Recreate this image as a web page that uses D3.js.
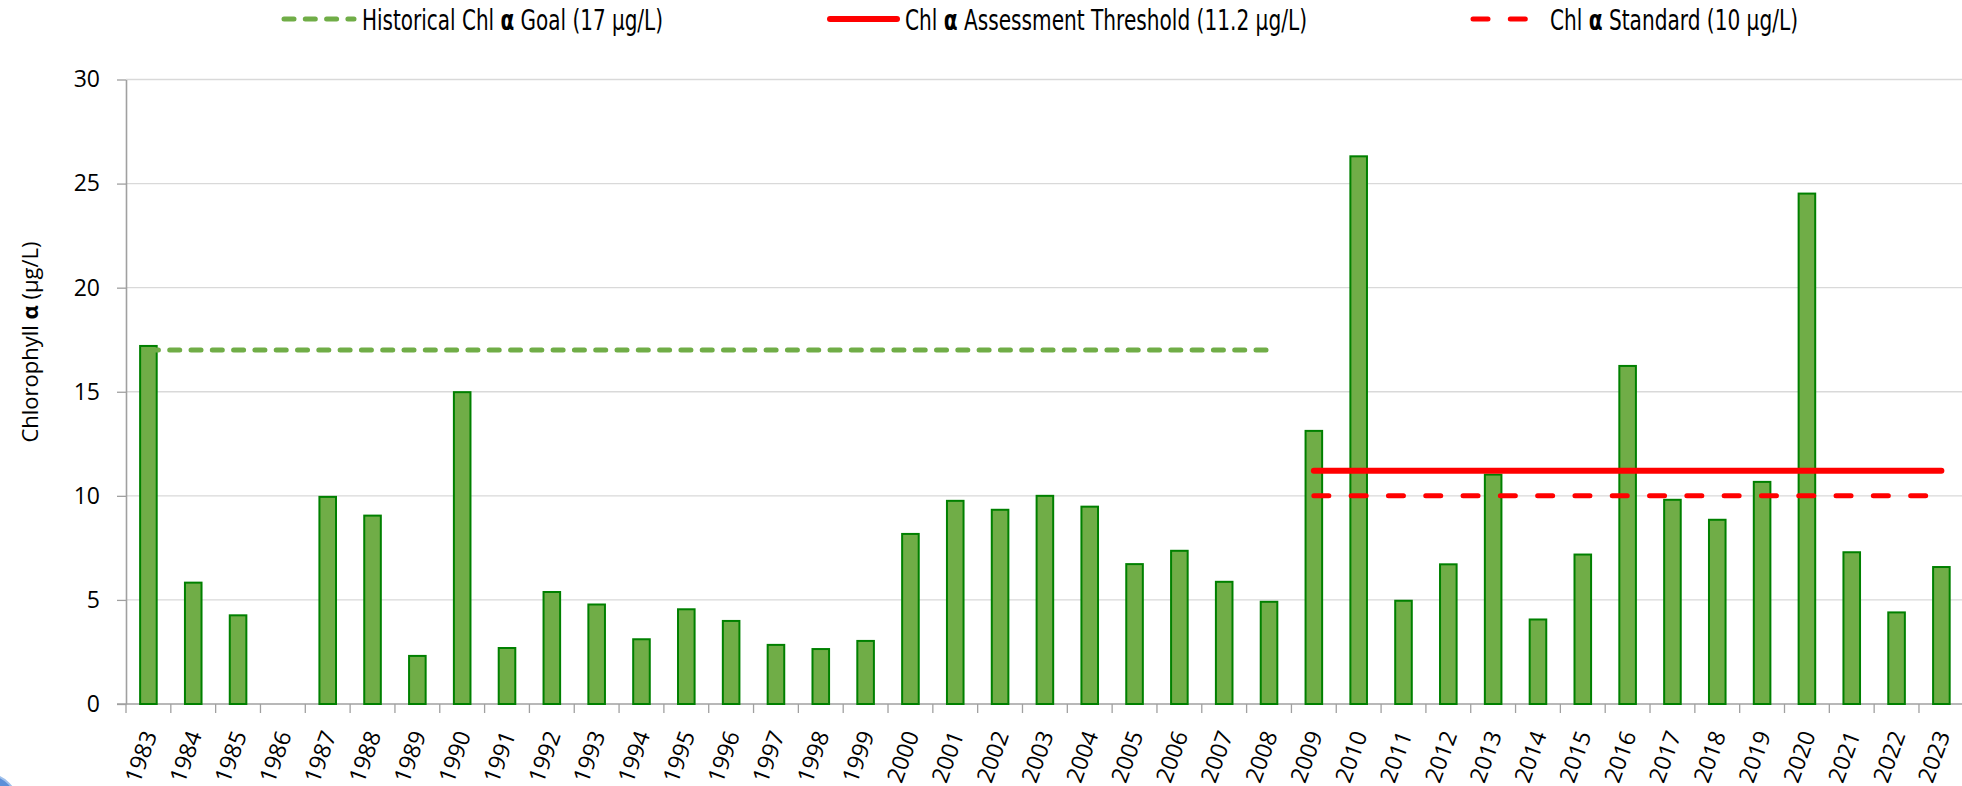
<!DOCTYPE html>
<html>
<head>
<meta charset="utf-8">
<script src="https://cdn.jsdelivr.net/npm/d3@7"></script>
<style>
  html, body { margin: 0; padding: 0; background: #fff; }
  svg { display: block; }
</style>
</head>
<body>
<script>
// chart data
var years = ['1983','1984','1985','1986','1987','1988','1989','1990','1991','1992',
             '1993','1994','1995','1996','1997','1998','1999','2000','2001','2002',
             '2003','2004','2005','2006','2007','2008','2009','2010','2011','2012',
             '2013','2014','2015','2016','2017','2018','2019','2020','2021','2022','2023'];
var chl = [17.2, 5.83, 4.26, null, 9.95, 9.05, 2.31, 14.98, 2.69, 5.38,
           4.78, 3.11, 4.55, 3.99, 2.84, 2.64, 3.03, 8.17, 9.76, 9.33,
           10.0, 9.48, 6.72, 7.36, 5.87, 4.91, 13.12, 26.31, 4.96, 6.71,
           11.02, 4.06, 7.18, 16.24, 9.81, 8.85, 10.67, 24.52, 7.29, 4.40, 6.58];
var yTicks = [0, 5, 10, 15, 20, 25, 30];

// reference lines: value + first / last year
var refValues = [17, 11.2, 10];
var refStart = ['1983', '2009', '2009'];
var refEnd = ['2008', '2023', '2023'];
var refLabels = ['Historical Chl α Goal (17 µg/L)', 'Chl α Assessment Threshold (11.2 µg/L)', 'Chl α Standard (10 µg/L)'];

// styles
var refStyle = [
  { color: '#70AD47', dash: '10,11.3', width: 5 },
  { color: '#FF0000', dash: null, width: 6 },
  { color: '#FF0000', dash: '15,22.3', width: 5 }
];
var legendPos = [
  { x1: 284, x2: 354, tx: 362, tw: 301 },
  { x1: 830, x2: 897, tx: 905, tw: 402 },
  { x1: 1473, x2: 1529, tx: 1550, tw: 248 }
];

var W = 1962, H = 786;
var mLeft = 126, mRight = 1963.8, mTop = 79.5, mBottom = 704;

var svg = d3.select('body').append('svg')
    .attr('width', W).attr('height', H);

svg.append('rect').attr('width', W).attr('height', H).attr('fill', '#fff');

var x = d3.scaleBand().domain(years).range([mLeft, mRight]).padding(0);
var y = d3.scaleLinear().domain([0, 30]).range([mBottom, mTop]);

// gridlines
svg.append('g').selectAll('line')
    .data(yTicks.filter(function(d) { return d > 0; }))
    .enter().append('line')
    .attr('x1', mLeft).attr('x2', W)
    .attr('y1', function(d) { return y(d); })
    .attr('y2', function(d) { return y(d); })
    .attr('stroke', '#d9d9d9').attr('stroke-width', 1.3);

// y axis
var yAxis = svg.append('g')
    .attr('transform', 'translate(' + mLeft + ',0)')
    .call(d3.axisLeft(y).tickValues(yTicks).tickSize(9).tickPadding(17).tickSizeOuter(0));
yAxis.select('.domain').attr('stroke', '#a0a0a0').attr('stroke-width', 1.6);
yAxis.selectAll('.tick line').attr('stroke', '#a0a0a0').attr('stroke-width', 1.3);
yAxis.selectAll('.tick text')
    .attr('font-family', 'Open Sans, sans-serif')
    .attr('font-size', 23).attr('fill', '#000');

// x axis
var xAxis = svg.append('g')
    .attr('transform', 'translate(0,' + mBottom + ')')
    .call(d3.axisBottom(x).tickSize(0).tickSizeOuter(0));
xAxis.select('.domain').remove();
xAxis.append('line')
    .attr('x1', mLeft - 9).attr('x2', W)
    .attr('stroke', '#a0a0a0').attr('stroke-width', 1.6);
xAxis.selectAll('.xtick')
    .data(years)
    .enter().append('line')
    .attr('class', 'xtick')
    .attr('x1', function(d) { return x(d); })
    .attr('x2', function(d) { return x(d); })
    .attr('y1', 0).attr('y2', 9)
    .attr('stroke', '#a0a0a0').attr('stroke-width', 1.3);
xAxis.selectAll('.tick text')
    .attr('font-family', 'Open Sans, sans-serif')
    .attr('font-size', 23).attr('fill', '#000')
    .attr('text-anchor', 'end')
    .attr('y', 0).attr('dy', '0.35em')
    .attr('transform', 'translate(1.5,28) rotate(-70)');

// bars
var bw = x.bandwidth() * 0.37;
svg.append('g').selectAll('rect')
    .data(years.map(function(d, i) { return { year: d, v: chl[i] }; })
        .filter(function(d) { return d.v != null; }))
    .enter().append('rect')
    .attr('x', function(d) { return x(d.year) + x.bandwidth() / 2 - bw / 2; })
    .attr('y', function(d) { return y(d.v); })
    .attr('width', bw)
    .attr('height', function(d) { return y(0) - y(d.v); })
    .attr('fill', '#70AD47')
    .attr('stroke', '#008000').attr('stroke-width', 2);

// reference lines
var cx = function(d) { return x(d) + x.bandwidth() / 2; };
refValues.forEach(function(v, i) {
  svg.append('line')
      .attr('x1', cx(refStart[i])).attr('x2', cx(refEnd[i]))
      .attr('y1', y(v)).attr('y2', y(v))
      .attr('stroke', refStyle[i].color)
      .attr('stroke-width', refStyle[i].width)
      .attr('stroke-linecap', 'round')
      .attr('stroke-dasharray', refStyle[i].dash);
});

// legend
var lg = svg.append('g');
refLabels.forEach(function(lab, i) {
  var p = legendPos[i];
  lg.append('line')
      .attr('x1', p.x1).attr('x2', p.x2)
      .attr('y1', 19).attr('y2', 19)
      .attr('stroke', refStyle[i].color)
      .attr('stroke-width', refStyle[i].width)
      .attr('stroke-linecap', 'round')
      .attr('stroke-dasharray', refStyle[i].dash);
  var parts = lab.split('α');
  var t = lg.append('text')
      .attr('x', p.tx).attr('y', 20).attr('dy', '0.35em')
      .attr('font-family', 'Liberation Sans Narrow, DejaVu Sans Condensed, Roboto, sans-serif')
      .attr('font-size', 28).attr('fill', '#000')
      .attr('textLength', p.tw).attr('lengthAdjust', 'spacingAndGlyphs');
  t.append('tspan').text(parts[0]);
  t.append('tspan').attr('font-weight', 'bold').text('α');
  t.append('tspan').text(parts[1]);
});

// y axis title
var yt = svg.append('text')
    .attr('transform', 'translate(38,342) rotate(-90)')
    .attr('text-anchor', 'middle')
    .attr('font-family', 'Open Sans, sans-serif')
    .attr('font-size', 22).attr('fill', '#000');
yt.append('tspan').text('Chlorophyll ');
yt.append('tspan').attr('font-weight', 'bold').text('α');
yt.append('tspan').text(' (µg/L)');

// little blue shape in the bottom-left corner
svg.append('circle')
    .attr('cx', -14).attr('cy', 806).attr('r', 32)
    .attr('fill', '#5b8fd8').attr('stroke', '#9fc0ec').attr('stroke-width', 2);
</script>
</body>
</html>
